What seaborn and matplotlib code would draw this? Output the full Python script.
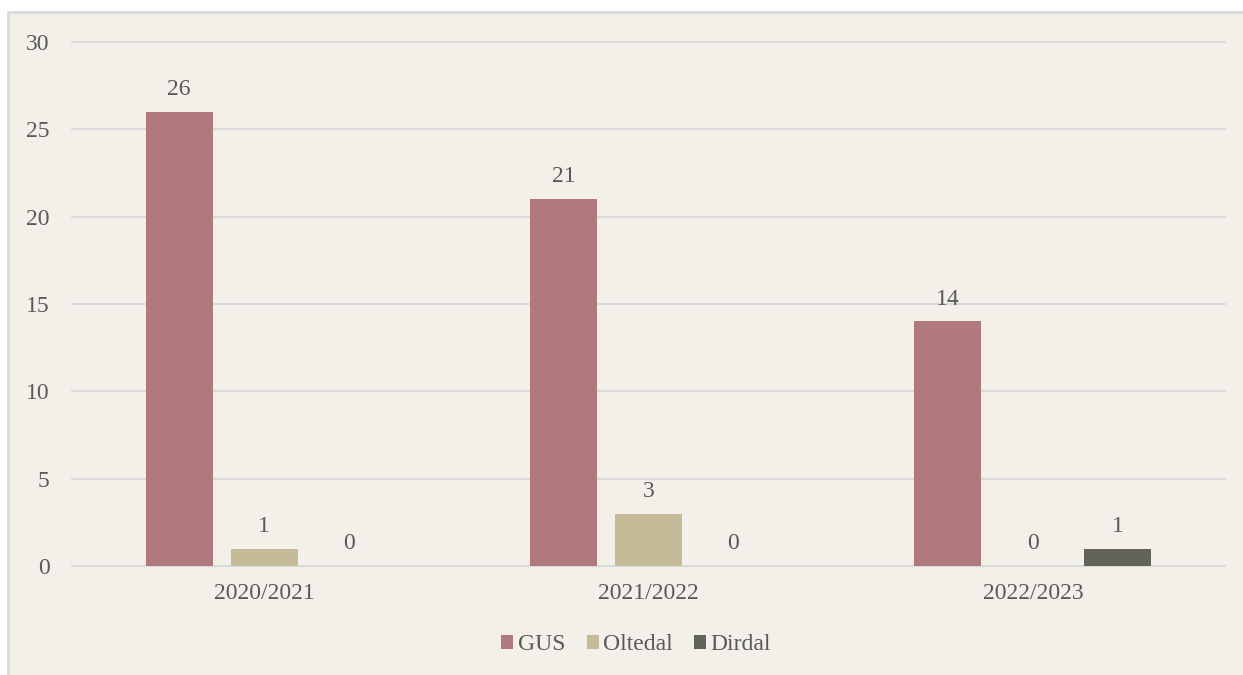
import matplotlib
matplotlib.use('Agg')
import matplotlib.pyplot as plt
from matplotlib.patches import Rectangle, Patch
import seaborn as sns
import pandas as pd

# data
seasons = ['2020/2021', '2021/2022', '2022/2023']
series = ['GUS', 'Oltedal', 'Dirdal']
gus = [26, 21, 14]
oltedal = [1, 3, 0]
dirdal = [0, 0, 1]
colors = ['#B0797D', '#C5BB98', '#62645A']

rows = []
for name, values in zip(series, [gus, oltedal, dirdal]):
    for season, v in zip(seasons, values):
        rows.append({'season': season, 'series': name, 'value': v})
df = pd.DataFrame(rows)

sns.set_style('white')
plt.rcParams['font.family'] = ['Liberation Serif', 'DejaVu Serif']
text_color = '#595959'
grid_color = '#D9D9D9'
bg = '#F3F0EA'

fig = plt.figure(figsize=(12.43, 6.75), dpi=100)
fig.patch.set_facecolor('white')
# chart-area frame, runs off the right and bottom edge like the original
fig.patches.append(Rectangle((8 / 1243, -0.05), 1.1, 1 - 12 / 675 + 0.05,
                             transform=fig.transFigure, facecolor=bg,
                             edgecolor=grid_color, linewidth=2, zorder=-5))

ax = fig.add_axes([72 / 1243, 1 - 566 / 675, (1225 - 72) / 1243, (566 - 42) / 675])
ax.set_facecolor('none')

sns.barplot(data=df, x='season', y='value', hue='series', order=seasons,
            hue_order=series, palette=colors, width=0.663, gap=0.21,
            saturation=1, linewidth=0, ax=ax, legend=False, zorder=3)

for container in ax.containers:
    ax.bar_label(container, padding=8.5, fontsize=17, color=text_color)

ax.set_ylim(0, 30)
ax.set_xlim(-0.5, 2.5)
ax.set_yticks(range(0, 31, 5))
ax.yaxis.grid(True, color=grid_color, linewidth=1.5, zorder=0)
ax.set_axisbelow(True)
for s in ax.spines.values():
    s.set_visible(False)
ax.tick_params(axis='y', length=0, pad=16, labelsize=17, labelcolor=text_color)
ax.tick_params(axis='x', length=0, pad=12, labelsize=17, labelcolor=text_color)
ax.set_xlabel('')
ax.set_ylabel('')
for line in ax.get_ygridlines():
    line.set_clip_on(False)

handles = [Patch(facecolor=c, edgecolor='none') for c in colors]
fig.legend(handles, series, loc='center', bbox_to_anchor=(0.512, 1 - 645 / 675),
           ncol=3, frameon=False, fontsize=17, labelcolor=text_color,
           handlelength=0.5, handleheight=0.5, handletextpad=0.2,
           columnspacing=0.9)

fig.savefig('out.png', dpi=100)
